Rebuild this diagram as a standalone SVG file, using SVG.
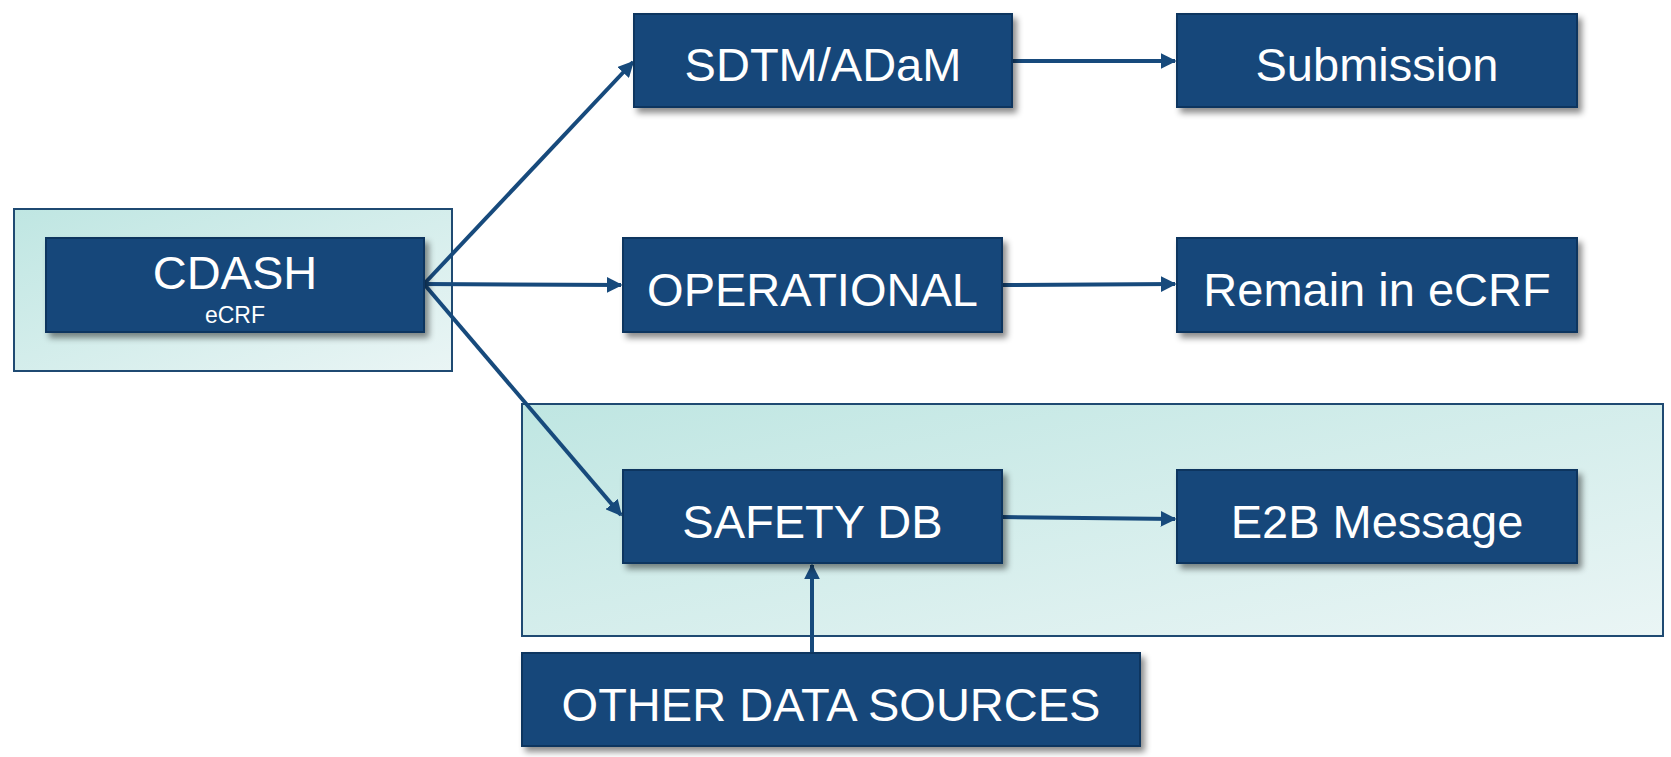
<svg xmlns="http://www.w3.org/2000/svg" width="1671" height="757" viewBox="0 0 1671 757">
  <defs>
    <linearGradient id="teal" x1="0" y1="0" x2="1" y2="1">
      <stop offset="0" stop-color="#BFE6E2"/>
      <stop offset="1" stop-color="#EAF5F5"/>
    </linearGradient>
    <filter id="shadow" x="-10%" y="-20%" width="125%" height="150%">
      <feDropShadow dx="4" dy="5" stdDeviation="3" flood-color="#000000" flood-opacity="0.45"/>
    </filter>
    <marker id="arrow" viewBox="0 0 10 10" refX="9" refY="5" markerWidth="4" markerHeight="4" markerUnits="strokeWidth" orient="auto">
      <path d="M0,0 L10,5 L0,10 Z" fill="#174A7C"/>
    </marker>
  </defs>
  <style>
    .group { fill: url(#teal); stroke: #1F4A72; stroke-width: 2; }
    .node rect { fill: #15467A; stroke: #0E355F; stroke-width: 2; filter: url(#shadow); }
    .node text { fill: #FFFFFF; font-family: "Liberation Sans", Arial, sans-serif; font-size: 47px; text-anchor: middle; }
    .node text.sub { font-size: 23px; }
    .conn line { stroke: #174A7C; stroke-width: 4; marker-end: url(#arrow); }
  </style>
  <rect width="1671" height="757" fill="#FFFFFF"/>

  <g id="group-cdash"><rect class="group" x="14" y="209" width="438" height="162"/></g>
  <g id="group-safety"><rect class="group" x="522" y="404" width="1141" height="232"/></g>

  <g id="connectors" class="conn">
    <line x1="424" y1="284" x2="633" y2="62"/>
    <line x1="424" y1="284" x2="621" y2="285"/>
    <line x1="424" y1="284" x2="621" y2="515"/>
    <line x1="1012" y1="61" x2="1175" y2="61"/>
    <line x1="1002" y1="285" x2="1175" y2="284"/>
    <line x1="1002" y1="517" x2="1175" y2="519"/>
    <line x1="812" y1="653" x2="812" y2="565"/>
  </g>

  <g id="node-cdash" class="node">
    <rect x="46" y="238" width="378" height="94"/>
    <text x="235" y="289">CDASH</text>
    <text class="sub" x="235" y="323">eCRF</text>
  </g>
  <g id="node-sdtm" class="node">
    <rect x="634" y="14" width="378" height="93"/>
    <text x="823" y="81">SDTM/ADaM</text>
  </g>
  <g id="node-submission" class="node">
    <rect x="1177" y="14" width="400" height="93"/>
    <text x="1377" y="81">Submission</text>
  </g>
  <g id="node-operational" class="node">
    <rect x="623" y="238" width="379" height="94"/>
    <text x="812.5" y="306">OPERATIONAL</text>
  </g>
  <g id="node-remain" class="node">
    <rect x="1177" y="238" width="400" height="94"/>
    <text x="1377" y="306">Remain in eCRF</text>
  </g>
  <g id="node-safety" class="node">
    <rect x="623" y="470" width="379" height="93"/>
    <text x="812.5" y="538">SAFETY DB</text>
  </g>
  <g id="node-e2b" class="node">
    <rect x="1177" y="470" width="400" height="93"/>
    <text x="1377" y="538">E2B Message</text>
  </g>
  <g id="node-other" class="node">
    <rect x="522" y="653" width="618" height="93"/>
    <text x="831" y="721">OTHER DATA SOURCES</text>
  </g>
</svg>
